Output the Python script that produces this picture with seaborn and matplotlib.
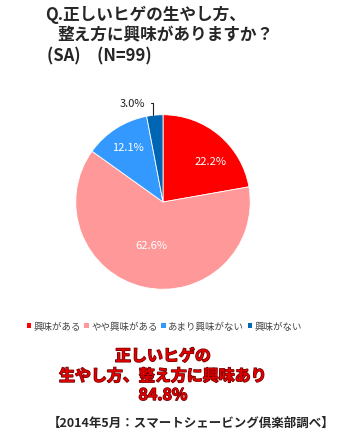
import matplotlib.pyplot as plt
import matplotlib.patheffects as pe
from matplotlib.patches import Patch
import seaborn as sns

# ── Data ──────────────────────────────────────────────────────────────────────
categories = ["興味がある", "やや興味がある", "あまり興味がない", "興味がない"]
shares = [22.2, 62.6, 12.1, 3.0]
colors = ["#FF0000", "#FF9999", "#3399FF", "#0066B3"]

sns.set_theme(style="white")
plt.rcParams["font.family"] = ["Noto Sans CJK JP", "DejaVu Sans"]

fig = plt.figure(figsize=(3.53, 4.39), dpi=100)

# ── Title ─────────────────────────────────────────────────────────────────────
fig.text(45 / 353, 1 - 15 / 439, "Q.正しいヒゲの生やし方、", fontsize=12,
         fontweight="bold", va="center", ha="left")
fig.text(57 / 353, 1 - 35 / 439, "整え方に興味がありますか？", fontsize=12,
         fontweight="bold", va="center", ha="left")
fig.text(47 / 353, 1 - 56 / 439, "(SA)　(N=99)", fontsize=12,
         fontweight="bold", va="center", ha="left")

# ── Pie ───────────────────────────────────────────────────────────────────────
ax = fig.add_axes([(163 - 89) / 353, (236 - 89) / 439, 178 / 353, 178 / 439])
wedges, _ = ax.pie(shares, colors=colors, startangle=90, counterclock=False,
                   radius=1, wedgeprops=dict(edgecolor="white", linewidth=0.6))
ax.set_xlim(-1.02, 1.02)
ax.set_ylim(-1.02, 1.02)
ax.set_aspect("equal")
ax.axis("off")

# labels inside the three big slices
label_pos = [(0.55, 0.47), (-0.13, -0.49), (-0.40, 0.63)]
for (x, y), v in zip(label_pos, shares[:3]):
    ax.text(x, y, f"{v}%", color="white", fontsize=8, ha="center", va="center")

# small slice: outside label with leader line
ax.annotate(f"{shares[3]}%", xy=(-0.12, 0.97), xytext=(-0.35, 1.13),
            fontsize=8, ha="center", va="center", color="#222222",
            arrowprops=dict(arrowstyle="-", color="#222222", lw=0.8,
                            connectionstyle="angle,angleA=0,angleB=90"))

# ── Legend ────────────────────────────────────────────────────────────────────
handles = [Patch(facecolor=c, edgecolor="none") for c in colors]
fig.legend(handles, categories, loc="center", bbox_to_anchor=(0.465, 1 - 327 / 439),
           ncol=4, frameon=False, fontsize=6.8, handlelength=0.5, handleheight=0.5,
           handletextpad=0.2, columnspacing=0.4, labelcolor="#444444")

# ── Highlight text ────────────────────────────────────────────────────────────
stroke = [pe.withStroke(linewidth=1.0, foreground="#6A0000")]
for y, s in [(357, "正しいヒゲの"), (377, "生やし方、整え方に興味あり"), (396, "84.8%")]:
    fig.text(163 / 353, 1 - y / 439, s, color="#E00000", fontsize=11.5,
             fontweight="bold", ha="center", va="center", path_effects=stroke)

# ── Source ────────────────────────────────────────────────────────────────────
fig.text(191 / 353, 1 - 423 / 439, "【2014年5月：スマートシェービング倶楽部調べ】",
         fontsize=9, fontweight="bold", ha="center", va="center")

fig.savefig("out.png", dpi=100)
